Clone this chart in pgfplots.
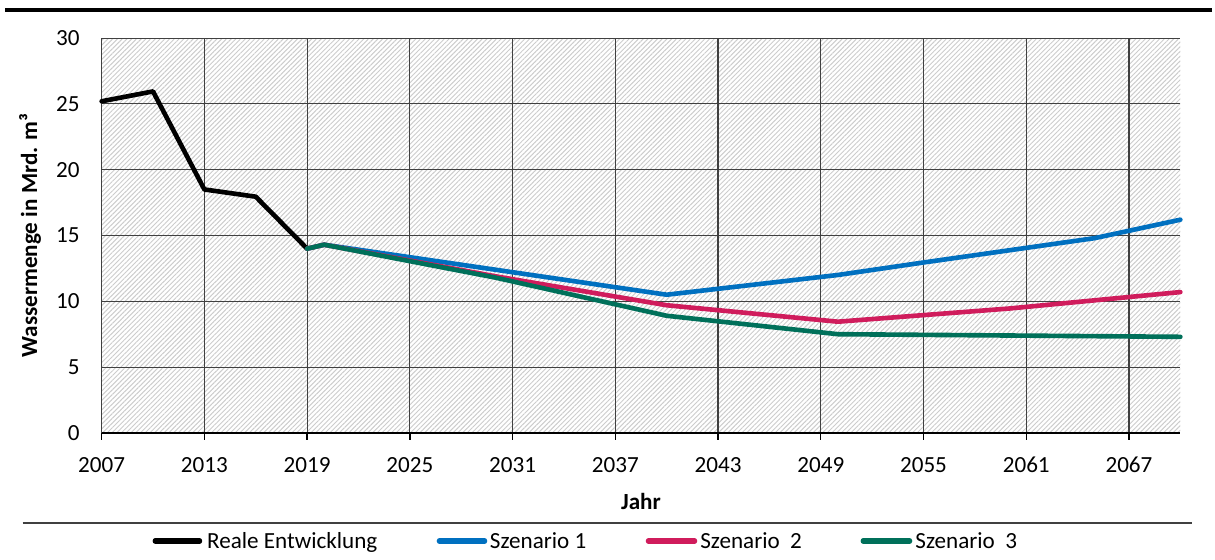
\documentclass[border=0pt]{standalone}
\usepackage{fontspec}
\setmainfont{Carlito}
\usepackage{pgfplots}
\pgfplotsset{compat=1.18}
\usetikzlibrary{patterns.meta}
\definecolor{cblue}{HTML}{0070C0}
\definecolor{cred}{HTML}{D01C5C}
\definecolor{cgreen}{HTML}{00705A}
\begin{document}
\begin{tikzpicture}
\path[use as bounding box] (-44pt,-54.6pt) rectangle (482pt,187.4pt);
\begin{axis}[at={(0,0)}, anchor=south west, scale only axis, width=467pt, height=170.9pt,
 xmin=2007, xmax=2070, ymin=0, ymax=30,
 xtick={2007,2013,...,2067}, ytick={0,5,...,30},
 axis x line*=bottom, axis y line*=left,
 x axis line style={black, line width=0.9pt, -},
 y axis line style={draw=none},
 xtick style={black, line width=0.6pt}, ytick style={draw=none},
 tick align=outside, major tick length=3pt,
 grid=major, major grid style={black!75, line width=0.5pt},
 axis background/.style={pattern={Lines[angle=45,distance=1.45pt,line width=0.42pt]}, pattern color=black!20},
 /pgf/number format/assume math mode=true,
 xticklabel style={/pgf/number format/1000 sep={}, yshift=-4pt},
 yticklabel style={xshift=-3pt},
 xlabel={\textbf{Jahr}}, ylabel={\textbf{Wassermenge in Mrd. m³}},
 xlabel style={at={(axis description cs:0.5,0)}, anchor=center, yshift=-29.9pt},
 ylabel style={at={(axis description cs:-0.0664,0.5)}, anchor=center},
 every axis plot/.append style={line width=2pt, line join=round, line cap=round, no markers},
 clip=false
]
\addplot[black] coordinates {(2007,25.2) (2010,25.95) (2013,18.5) (2016,17.95) (2019,14.0)};
\addplot[cblue] coordinates {(2019,14.0) (2020,14.3) (2030,12.4) (2040,10.5) (2050,12.0) (2055,12.95) (2065,14.8) (2070,16.2)};
\addplot[cred] coordinates {(2019,14.0) (2020,14.3) (2030,11.9) (2040,9.7) (2050,8.45) (2060,9.45) (2070,10.7)};
\addplot[cgreen] coordinates {(2019,14.0) (2020,14.3) (2030,11.8) (2040,8.9) (2050,7.5) (2060,7.4) (2070,7.3)};
\end{axis}
\draw[line width=1.4pt, black] (-41.8pt,183.1pt) -- (480.7pt,183.1pt);
\draw[line width=0.8pt, black!75] (-34.2pt,-38.9pt) -- (472pt,-38.9pt);
\begin{scope}[line width=2.3pt, line cap=round]
\draw[black] (23.2pt,-46.8pt) -- (42.4pt,-46.8pt);
\draw[cblue] (146.2pt,-46.8pt) -- (165.8pt,-46.8pt);
\draw[cred] (236.7pt,-46.8pt) -- (256.7pt,-46.8pt);
\draw[cgreen] (329.7pt,-46.8pt) -- (349.8pt,-46.8pt);
\end{scope}
\node[anchor=base west, inner sep=0pt] at (45.5pt,-50pt) {Reale Entwicklung};
\node[anchor=base west, inner sep=0pt] at (167.9pt,-50pt) {Szenario 1};
\node[anchor=base west, inner sep=0pt] at (259.0pt,-50pt) {Szenario\ \ 2};
\node[anchor=base west, inner sep=0pt] at (352.1pt,-50pt) {Szenario\ \ 3};
\end{tikzpicture}
\end{document}
